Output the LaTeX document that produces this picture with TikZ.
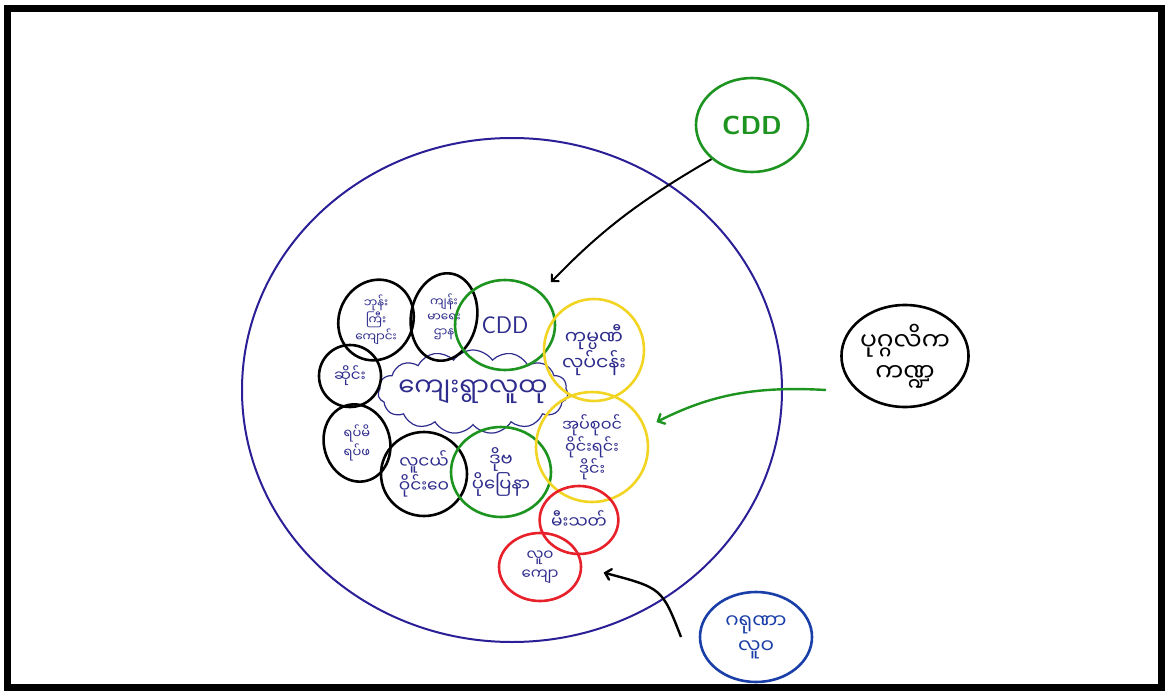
\documentclass[tikz,border=0pt]{standalone}
\usepackage{fontspec}
\newfontfamily\mmfont[Script=Myanmar]{Noto Sans Myanmar UI}
\usetikzlibrary{arrows,shapes.geometric,shapes.symbols}
\definecolor{inkblue}{HTML}{2E2C8C}
\definecolor{rimblue}{HTML}{2A1F96}
\definecolor{pengreen}{HTML}{1E9420}
\definecolor{penyellow}{HTML}{F2D422}
\definecolor{penred}{HTML}{E8202A}
\definecolor{penblue}{HTML}{1A3FA8}
\tikzset{
  ring/.style={ellipse,draw,line width=2.6pt,inner sep=0pt},
  burmese/.style={font=\mmfont\fontsize{#1}{#1}\linespread{1.25}\selectfont,align=center,text=inkblue},
  latin/.style={font=\sffamily\fontsize{#1}{#1}\selectfont},
}

\begin{document}
\begin{tikzpicture}[x=1pt,y=-1pt,>=angle 90]
\useasboundingbox (0,0) rectangle (1168,698);
\fill[white] (0,0) rectangle (1168,698);
\draw[line width=7pt] (7,9) rectangle (1161,687);

% the whole township
\draw[rimblue,line width=2pt] (512,390) ellipse (270pt and 252pt);

% village community in the middle
\node[cloud,draw=inkblue,line width=1.2pt,cloud puffs=15,cloud puff arc=110,aspect=2.4,
  minimum width=190pt,minimum height=84pt,inner sep=0pt] (village) at (473,392) {};
\node[burmese=26] (villagetxt) at (village) {ကျေးရွာလူထု};

% groups round the village
\node[ring,minimum width=74pt,minimum height=82pt,rotate=-25] (b1) at (376,320) {};
\node[burmese=12] (b1txt) at (b1) {ဘုန်း\\ကြီး\\ကျောင်း};
\node[ring,minimum width=66pt,minimum height=88pt,rotate=-10] (b2) at (444,317) {};
\node[burmese=12] (b2txt) at (b2) {ကျန်း\\မာရေး\\ဌာန};
\node[ring,minimum width=62pt,minimum height=62pt] (b3) at (350,376) {};
\node[burmese=15] (b3txt) at (b3) {ဆိုင်း};
\node[ring,minimum width=66pt,minimum height=78pt,rotate=15] (b4) at (357,443) {};
\node[burmese=13] (b4txt) at (b4) {ရပ်မိ\\ရပ်ဖ};
\node[ring,minimum width=86pt,minimum height=84pt,burmese=17] (b5) at (424,474) {လူငယ်\\ဝိုင်းဝေ};

\node[ring,draw=pengreen,minimum width=100pt,minimum height=90pt,latin=24,text=inkblue] (cddin) at (505,325) {CDD};
\node[ring,draw=pengreen,minimum width=100pt,minimum height=90pt,burmese=18] (g2) at (501,472) {ဒိုဗ\\ပိုပြေနာ};

\node[ring,draw=penyellow,minimum width=100pt,minimum height=102pt,burmese=19] (y1) at (594,350) {ကုမ္ပဏီ\\လုပ်ငန်း};
\node[ring,draw=penyellow,minimum width=112pt,minimum height=110pt,burmese=16] (y2) at (592,447) {အုပ်စုဝင်\\ဝိုင်းရင်း\\ဒိုင်း};

\node[ring,draw=penred,minimum width=78pt,minimum height=68pt,burmese=17] (r1) at (579,520) {မီးသတ်};
\node[ring,draw=penred,minimum width=82pt,minimum height=68pt,burmese=15] (r2) at (540,567) {လူဝ\\ကျော};

% outside supporters
\node[ring,draw=pengreen,minimum width=112pt,minimum height=94pt,latin=26,text=pengreen] (cdd) at (752,125) {\bfseries CDD};
\node[ring,minimum width=126pt,minimum height=102pt,burmese=25,text=black] (sector) at (905,356) {ပုဂ္ဂလိက\\ကဏ္ဍ};
\node[ring,draw=penblue,minimum width=112pt,minimum height=90pt,burmese=20,text=penblue] (gov) at (756,637) {ဂရုဏာ\\လူဝ};

\coordinate (gtail) at (826,390);
\coordinate (btail) at (681,637);
\draw[->,line width=2pt,shorten >=14pt] (cdd.south west) to[bend right=8] (cddin.north east);
\draw[->,pengreen,line width=2.4pt,shorten >=12pt] (gtail) to[bend right=15] (y2.20);
\draw[->,line width=2.4pt,shorten >=22pt] (btail) .. controls (662,588) .. (r2.east);
\end{tikzpicture}
\end{document}
